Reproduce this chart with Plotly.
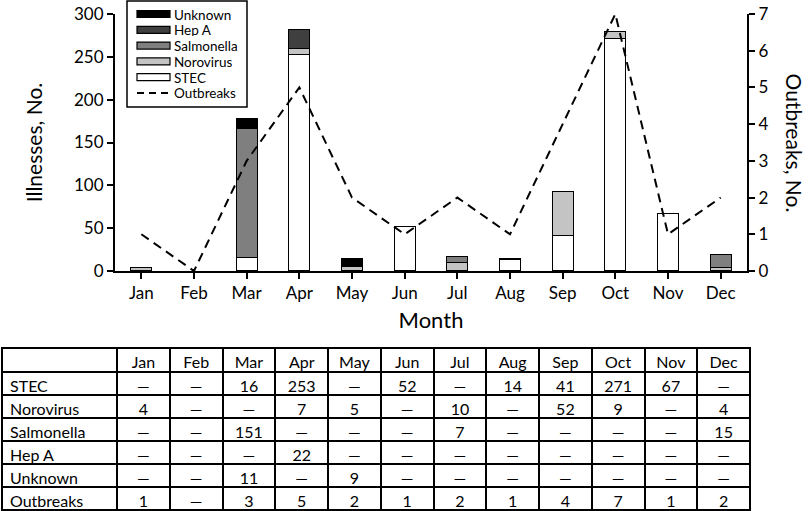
import plotly.graph_objects as go

months = ["Jan", "Feb", "Mar", "Apr", "May", "Jun", "Jul", "Aug", "Sep", "Oct", "Nov", "Dec"]
stec = [0, 0, 16, 253, 0, 52, 0, 14, 41, 271, 67, 0]
norovirus = [4, 0, 0, 7, 5, 0, 10, 0, 52, 9, 0, 4]
salmonella = [0, 0, 151, 0, 0, 0, 7, 0, 0, 0, 0, 15]
hepa = [0, 0, 0, 22, 0, 0, 0, 0, 0, 0, 0, 0]
unknown = [0, 0, 11, 0, 9, 0, 0, 0, 0, 0, 0, 0]
outbreaks = [1, 0, 3, 5, 2, 1, 2, 1, 4, 7, 1, 2]

series = [
    ("STEC", stec, "#ffffff"),
    ("Norovirus", norovirus, "#c4c4c4"),
    ("Salmonella", salmonella, "#7f7f7f"),
    ("Hep A", hepa, "#3f3f3f"),
    ("Unknown", unknown, "#000000"),
]

FONT = "Lato"
W, H = 810, 511

fig = go.Figure()
for name, vals, color in series:
    fig.add_trace(go.Bar(
        x=months, y=[v if v else None for v in vals], name=name, width=0.4,
        marker=dict(color=color, line=dict(color="black", width=1.2)),
        xaxis="x", yaxis="y", showlegend=False,
    ))

fig.add_trace(go.Scatter(
    x=months, y=outbreaks, name="Outbreaks", mode="lines",
    line=dict(color="black", width=2, dash="9px,6px"),
    xaxis="x", yaxis="y2", showlegend=False,
))

def cell(v):
    return str(v) if v else "—"

row_names = ["STEC", "Norovirus", "Salmonella", "Hep A", "Unknown", "Outbreaks"]
row_data = [stec, norovirus, salmonella, hepa, unknown, outbreaks]
columns = [row_names] + [[cell(r[i]) for r in row_data] for i in range(len(months))]

fig.add_trace(go.Table(
    domain=dict(x=[2 / W, 750 / W], y=[0, 1 - 348 / H]),
    columnwidth=[115] + [52.7] * 12,
    header=dict(values=[""] + months, height=24,
                align=["left"] + ["center"] * 12,
                line=dict(color="black", width=2), fill=dict(color="white"),
                font=dict(family=FONT, size=16, color="black")),
    cells=dict(values=columns, height=23,
               align=["left"] + ["center"] * 12,
               line=dict(color="black", width=2), fill=dict(color="white"),
               font=dict(family=FONT, size=16, color="black")),
))

y_top = 1 - 14 / H
y_bot = 1 - 271 / H

def px(x, y):
    return x / W, 1 - y / H

# custom legend (box, swatches, labels)
shapes = []
annotations = []
x0, y0 = px(127, 1)
x1, y1 = px(247, 107)
shapes.append(dict(type="rect", xref="paper", yref="paper", x0=x0, y0=y1, x1=x1, y1=y0,
                   line=dict(color="black", width=1.5), fillcolor="white", layer="above"))
legend_items = [(s[0], s[2]) for s in reversed(series)] + [("Outbreaks", None)]
for i, (name, color) in enumerate(legend_items):
    cy = 14 + i * 15.8
    if color is not None:
        a0, b0 = px(137, cy - 3.5)
        a1, b1 = px(170, cy + 3.5)
        shapes.append(dict(type="rect", xref="paper", yref="paper", x0=a0, y0=b1, x1=a1, y1=b0,
                           line=dict(color="black", width=1.2), fillcolor=color, layer="above"))
    else:
        a0, b0 = px(137, cy)
        a1, _ = px(170, cy)
        shapes.append(dict(type="line", xref="paper", yref="paper", x0=a0, y0=b0, x1=a1, y1=b0,
                           line=dict(color="black", width=2, dash="7px,5px"), layer="above"))
    tx, ty = px(173, cy)
    annotations.append(dict(text=name, x=tx, y=ty, xref="paper", yref="paper",
                            xanchor="left", yanchor="middle", showarrow=False,
                            height=13, valign="middle", borderpad=0,
                            font=dict(size=13.5)))

annotations.append(dict(text="Outbreaks, No.", textangle=90, x=794 / W, y=(y_top + y_bot) / 2,
                        xref="paper", yref="paper", xanchor="center", yanchor="middle",
                        showarrow=False, font=dict(size=21)))

fig.update_layout(
    width=W, height=H,
    margin=dict(l=0, r=0, t=0, b=0, autoexpand=False),
    paper_bgcolor="white", plot_bgcolor="white",
    barmode="stack",
    font=dict(family=FONT, size=16, color="black"),
    showlegend=False,
    xaxis=dict(domain=[115 / W, 747 / W], range=[-0.5, 11.5],
               showline=True, linecolor="black", linewidth=2,
               ticks="outside", ticklen=6, tickwidth=1.5, tickcolor="black",
               tickfont=dict(size=17), showgrid=False, zeroline=False,
               title=dict(text="Month", font=dict(size=22), standoff=10),
               anchor="y"),
    yaxis=dict(domain=[y_bot, y_top], range=[0, 300], dtick=50,
               showline=True, linecolor="black", linewidth=2,
               ticks="outside", ticklen=6, tickwidth=1.5, tickcolor="black",
               tickfont=dict(size=17), showgrid=False, zeroline=False,
               title=dict(text="Illnesses, No.", font=dict(size=21), standoff=26)),
    yaxis2=dict(range=[0, 7], dtick=1, overlaying="y", side="right",
                showline=True, linecolor="black", linewidth=2,
                ticks="outside", ticklen=6, tickwidth=1.5, tickcolor="black",
                tickfont=dict(size=17), showgrid=False, zeroline=False),
    shapes=shapes,
    annotations=annotations,
)

fig.write_html("out.html", config={"displayModeBar": False},
               post_script="document.body.style.margin='0';")
